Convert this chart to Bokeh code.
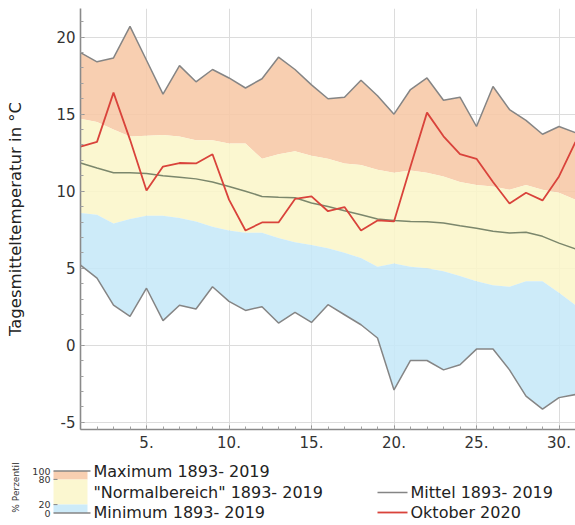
import math
from bokeh.plotting import figure
from bokeh.models import Range1d, FixedTicker, ColumnDataSource
from bokeh.embed import file_html
from bokeh.resources import INLINE
from bokeh.core.properties import value

# ---------------- data ----------------
days = list(range(1, 32))
max_vals = [19.0, 18.4, 18.65, 20.7, 18.5, 16.3, 18.15, 17.1, 17.9, 17.35, 16.7,
            17.3, 18.7, 17.9, 16.9, 16.0, 16.1, 17.2, 16.2, 15.0, 16.6, 17.35,
            15.9, 16.1, 14.2, 16.8, 15.3, 14.6, 13.7, 14.2, 13.8]
p80_vals = [14.7, 14.5, 14.0, 13.55, 13.6, 13.65, 13.55, 13.3, 13.3, 13.1, 13.1,
            12.1, 12.4, 12.6, 12.3, 12.1, 11.8, 11.7, 11.4, 11.2, 11.35, 11.2,
            10.95, 10.6, 10.4, 10.3, 10.1, 10.4, 10.1, 9.9, 9.45]
p20_vals = [8.58, 8.47, 7.9, 8.2, 8.4, 8.4, 8.26, 8.04, 7.7, 7.45, 7.3,
            7.3, 6.96, 6.68, 6.5, 6.3, 6.0, 5.66, 5.1, 5.3, 5.1, 5.0,
            4.8, 4.5, 4.15, 3.9, 3.8, 4.15, 4.15, 3.4, 2.6]
min_vals = [5.2, 4.36, 2.6, 1.87, 3.7, 1.6, 2.6, 2.35, 3.8, 2.85, 2.26,
            2.5, 1.44, 2.13, 1.48, 2.63, 1.98, 1.33, 0.47, -2.9, -0.99, -0.99,
            -1.6, -1.27, -0.25, -0.25, -1.6, -3.3, -4.15, -3.4, -3.2]
mean_vals = [11.83, 11.5, 11.2, 11.2, 11.15, 11.0, 10.9, 10.8, 10.6, 10.3, 10.0,
             9.66, 9.6, 9.58, 9.23, 9.0, 8.73, 8.47, 8.2, 8.1, 8.04, 8.02,
             7.93, 7.76, 7.6, 7.4, 7.29, 7.33, 7.07, 6.63, 6.25]
oct2020_vals = [12.9, 13.2, 16.4, 13.35, 10.05, 11.6, 11.83, 11.8, 12.4, 9.45, 7.45,
                7.97, 7.97, 9.5, 9.66, 8.7, 8.97, 7.45, 8.1, 8.04, 11.6, 15.1,
                13.56, 12.4, 12.1, 10.6, 9.2, 9.9, 9.4, 10.96, 13.2]

x_ticks = [5, 10, 15, 20, 25, 30]
x_tick_labels = ["5.", "10.", "15.", "20.", "25.", "30."]
y_ticks = [-5, 0, 5, 10, 15, 20]
y_tick_labels = ["-5", "0", "5", "10", "15", "20"]

y_label = "Tagesmitteltemperatur in °C"
band_labels = ["Maximum 1893- 2019", "\"Normalbereich\" 1893- 2019", "Minimum 1893- 2019"]
line_labels = ["Mittel 1893- 2019", "Oktober 2020"]
pct_edges = [100, 80, 20, 0]
pct_title = "% Perzentil"

# ---------------- styles ----------------
FONT = "DejaVu Sans"
ORANGE = "#F7C8A6"
YELLOW = "#FAF6CA"
BLUE = "#C6E8F8"
GRAY = "#858585"
MEAN_C = "#7b876c"
RED = "#D9433B"
TXT = "#222222"

src = ColumnDataSource(dict(day=days, mx=max_vals, p80=p80_vals, p20=p20_vals,
                            mn=min_vals, mean=mean_vals, oct=oct2020_vals))

p = figure(width=575, height=454, x_range=Range1d(1, 31), y_range=Range1d(-5.47, 21.86),
           output_backend="svg", toolbar_location=None,
           min_border_left=80, min_border_right=0, min_border_top=8, min_border_bottom=25)
p.outline_line_color = None
p.background_fill_color = "white"

p.varea(x="day", y1="p80", y2="mx", source=src, fill_color=ORANGE, fill_alpha=0.88)
p.varea(x="day", y1="p20", y2="p80", source=src, fill_color=YELLOW, fill_alpha=0.88)
p.varea(x="day", y1="mn", y2="p20", source=src, fill_color=BLUE, fill_alpha=0.88)
p.line(x="day", y="mx", source=src, line_color=GRAY, line_width=1.5)
p.line(x="day", y="mn", source=src, line_color=GRAY, line_width=1.5)
p.line(x="day", y="mean", source=src, line_color=MEAN_C, line_width=1.5)
p.line(x="day", y="oct", source=src, line_color=RED, line_width=1.8)

p.xaxis.ticker = FixedTicker(ticks=x_ticks, minor_ticks=days)
p.xaxis.major_label_overrides = {t: l for t, l in zip(x_ticks, x_tick_labels)}
p.yaxis.ticker = FixedTicker(ticks=y_ticks, minor_ticks=list(range(-5, 22)))
p.yaxis.major_label_overrides = {t: l for t, l in zip(y_ticks, y_tick_labels)}

for ax in (p.xaxis[0], p.yaxis[0]):
    ax.axis_line_color = "#8a8a8a"
    ax.axis_line_width = 1.6
    ax.major_tick_in = 4
    ax.major_tick_out = 0
    ax.minor_tick_in = 3
    ax.minor_tick_out = 0
    ax.major_tick_line_color = "#8a8a8a"
    ax.minor_tick_line_color = "#a0a0a0"
    ax.major_label_text_font = FONT
    ax.major_label_text_font_size = "15px"
    ax.major_label_text_color = "#333333"
    ax.major_label_standoff = 5

p.xaxis.major_label_standoff = 6
p.yaxis.axis_label = y_label
p.yaxis.axis_label_text_font = FONT
p.yaxis.axis_label_text_font_size = "16.5px"
p.yaxis.axis_label_text_font_style = "normal"
p.yaxis.axis_label_text_color = TXT
p.yaxis.axis_label_standoff = 28

p.grid.grid_line_color = "#dcdcdc"
p.grid.grid_line_width = 1

# ---------------- legend figure (separate root, pixel-like coordinates) ----------------
LW, LH = 575, 71
lg = figure(width=LW, height=LH, x_range=Range1d(0, LW), y_range=Range1d(LH, 0),
            output_backend="svg", toolbar_location=None,
            x_axis_location=None, y_axis_location=None, min_border=0)
lg.outline_line_color = None
lg.grid.visible = False


def py(pct):
    # legend bar vertical scale: percentile -> legend y (downwards)
    return 58.5 - pct * 0.42


bar_l, bar_r = 53, 87
band_colors = [ORANGE, YELLOW, BLUE]
lg.quad(left=[bar_l] * 3, right=[bar_r] * 3,
        top=[py(v) for v in pct_edges[:-1]], bottom=[py(v) for v in pct_edges[1:]],
        fill_color=band_colors, fill_alpha=0.88, line_color=None)
lg.segment(x0=[bar_l, bar_l], x1=[bar_r + 3, bar_r + 3],
           y0=[py(pct_edges[0]), py(pct_edges[-1])], y1=[py(pct_edges[0]), py(pct_edges[-1])],
           line_color=GRAY, line_width=1.6)
lg.segment(x0=[bar_l, bar_l], x1=[bar_l + 4, bar_l + 4],
           y0=[py(pct_edges[1]), py(pct_edges[2])], y1=[py(pct_edges[1]), py(pct_edges[2])],
           line_color=GRAY, line_width=1)
lg.text(x=[50] * 4, y=[py(v) for v in pct_edges], text=[str(v) for v in pct_edges],
        text_font=value(FONT), text_font_size="9.5px", text_color="#333333",
        text_align="right", text_baseline="middle")
lg.text(x=[15], y=[33], text=[pct_title], angle=math.pi / 2,
        text_font=value(FONT), text_font_size="9px", text_color="#333333",
        text_align="center", text_baseline="middle")

rows_y = [17, 38, 58]
lg.text(x=[93] * 3, y=rows_y, text=band_labels,
        text_font=value(FONT), text_font_size="16px", text_color=TXT,
        text_align="left", text_baseline="middle")

lg.segment(x0=[377], x1=[407], y0=[rows_y[1]], y1=[rows_y[1]], line_color=GRAY, line_width=1.6)
lg.segment(x0=[377], x1=[407], y0=[rows_y[2]], y1=[rows_y[2]], line_color=RED, line_width=1.8)
lg.text(x=[410, 410], y=rows_y[1:], text=line_labels,
        text_font=value(FONT), text_font_size="16px", text_color=TXT,
        text_align="left", text_baseline="middle")

open("out.html", "w").write(file_html([p, lg], INLINE))
